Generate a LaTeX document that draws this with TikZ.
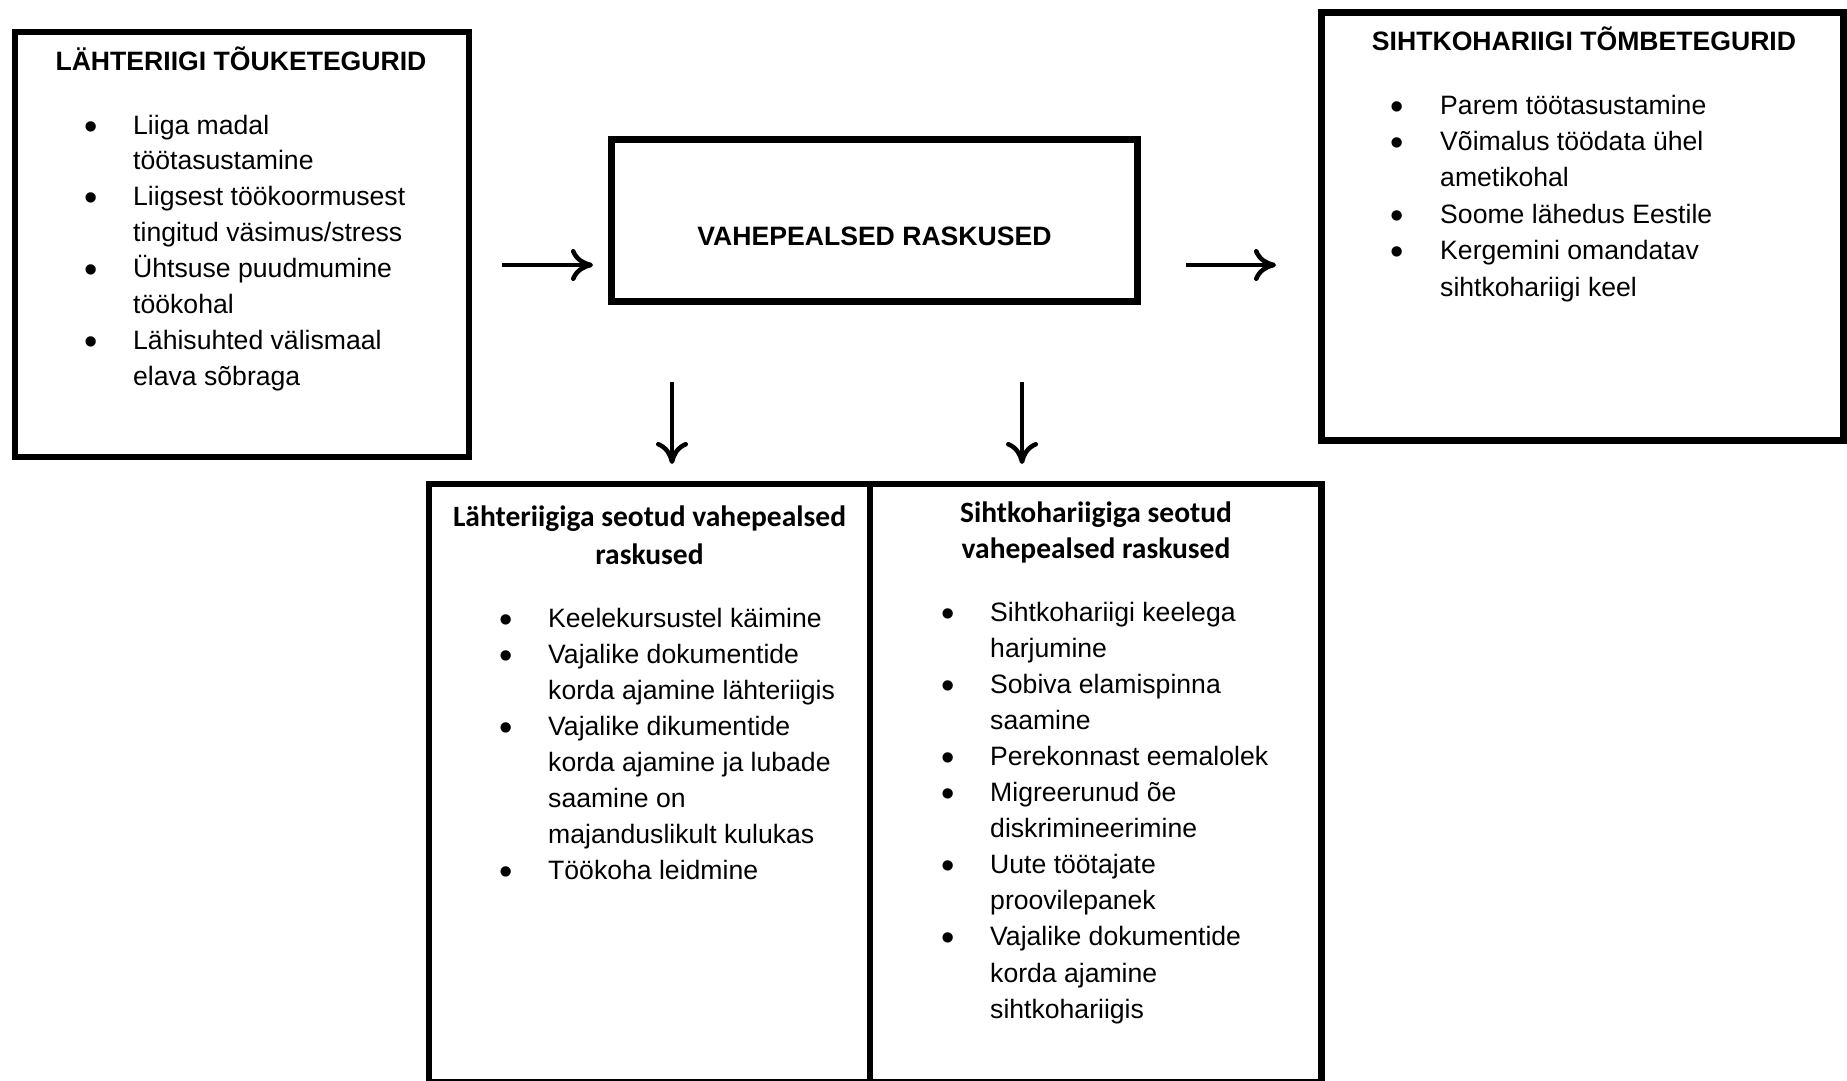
\documentclass[tikz,border=0pt]{standalone}
\usepackage{fontspec}
\setmainfont{Liberation Sans}
\newfontfamily\calib{Carlito}
\usetikzlibrary{arrows.meta}

\newcommand\itemlist[6]{% #1 prefix, #2 x bullet, #3 x text, #4 y0, #5 spacing, #6 lines
  \foreach \b/\t [count=\i] in {#6} {
    \node[body] (#1\i) at (#3, {#4+#5*(\i-1)}) {\t};
    \ifnum\b=1 \node[dot] (#1b\i) at (#2, {#4+#5*(\i-1)+5}) {\textbullet};\fi
  }
}

\begin{document}
\begin{tikzpicture}[x=1pt,y=-1pt,
  box/.style={draw, line width=6.5pt, rectangle, inner sep=0pt},
  body/.style={inner sep=0pt, anchor=base west, font=\fontsize{26.6}{36}\selectfont},
  dot/.style={inner sep=0pt, anchor=base, font=\fontsize{38}{40}\selectfont},
  head/.style={inner sep=0pt, anchor=base, font=\fontsize{26.6}{36}\selectfont\bfseries},
  subhead/.style={inner sep=0pt, anchor=base, font=\calib\fontsize{29.5}{38}\selectfont\bfseries},
  arr/.style={line width=4.5pt, -{Computer Modern Rightarrow[length=22pt,width=32pt]}}
]
\clip (0,0) rectangle (1847,1080);
\fill[white] (0,0) rectangle (1847,1080);

% boxes
\node[box, minimum width=454pt, minimum height=425pt] (L) at (242,244.5) {};
\node[box, minimum width=526pt, minimum height=162pt] (M) at (874.5,220.5) {};
\node[box, line width=7pt, minimum width=522pt, minimum height=428pt] (R) at (1582.5,226.5) {};
\node[box, minimum width=441pt, minimum height=598pt] (BL) at (649.5,783) {};
\node[box, minimum width=451.5pt, minimum height=598pt] (BR) at (1095.75,783) {};

% titles
\node[head] (Lt) at (241,70.5) {LÄHTERIIGI TÕUKETEGURID};
\node[head] (Rt) at (1584,50) {SIHTKOHARIIGI TÕMBETEGURID};
\node[head] (Mt) at (874.5,245.5) {VAHEPEALSED RASKUSED};
\node[subhead] (BLt1) at (649.5,526) {Lähteriigiga seotud vahepealsed};
\node[subhead] (BLt2) at (649.5,564) {raskused};
\node[subhead] (BRt1) at (1096,522) {Sihtkohariigiga seotud};
\node[subhead] (BRt2) at (1096,558) {vahepealsed raskused};

% lists
\itemlist{l}{91}{133}{134}{35.9}{1/Liiga madal, 0/töötasustamine, 1/Liigsest töökoormusest, 0/{tingitud väsimus/stress}, 1/Ühtsuse puudmumine, 0/töökohal, 1/Lähisuhted välismaal, 0/elava sõbraga}
\itemlist{r}{1397}{1440}{114}{36.4}{1/Parem töötasustamine, 1/Võimalus töödata ühel, 0/ametikohal, 1/Soome lähedus Eestile, 1/Kergemini omandatav, 0/sihtkohariigi keel}
\itemlist{bl}{506}{548}{627}{36}{1/Keelekursustel käimine, 1/Vajalike dokumentide, 0/korda ajamine lähteriigis, 1/Vajalike dikumentide, 0/korda ajamine ja lubade, 0/saamine on, 0/majanduslikult kulukas, 1/Töökoha leidmine}
\itemlist{br}{948}{990}{621}{36.1}{1/Sihtkohariigi keelega, 0/harjumine, 1/Sobiva elamispinna, 0/saamine, 1/Perekonnast eemalolek, 1/Migreerunud õe, 0/diskrimineerimine, 1/Uute töötajate, 0/proovilepanek, 1/Vajalike dokumentide, 0/korda ajamine, 0/sihtkohariigis}

% arrows
\coordinate (a1s) at (502,265);
\coordinate (a1e) at (593,265);
\coordinate (a2s) at (1186,265);
\coordinate (a2e) at (1276,265);
\coordinate (a3s) at (672,382);
\coordinate (a3e) at (672,464);
\coordinate (a4s) at (1022,382);
\coordinate (a4e) at (1022,464);
\draw[arr] (a1s) -- (a1e);
\draw[arr] (a2s) -- (a2e);
\draw[arr] (a3s) -- (a3e);
\draw[arr] (a4s) -- (a4e);
\end{tikzpicture}
\end{document}
